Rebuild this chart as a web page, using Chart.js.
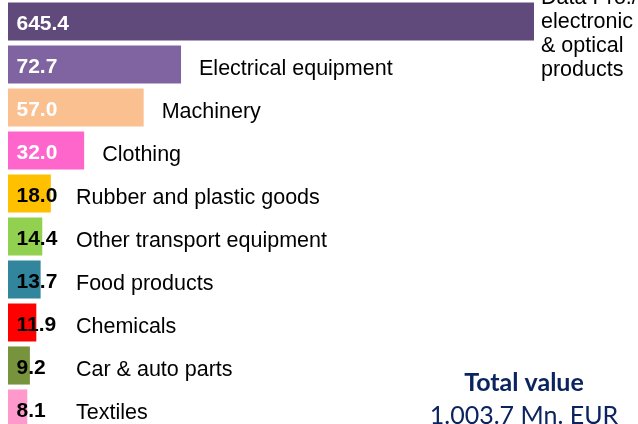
<!DOCTYPE html>
<html>
<head>
<meta charset="utf-8">
<script src="https://cdn.jsdelivr.net/npm/chart.js@4.4.1/dist/chart.umd.min.js"></script>
<style>
  html, body { margin: 0; padding: 0; background: #fff; overflow: hidden; }
  #wrap { position: relative; width: 638px; height: 430px; }
</style>
</head>
<body>
<div id="wrap"><canvas id="chart" width="638" height="430"></canvas></div>
<script>
const categories = [
  ['Data Pro./', 'electronic', '& optical', 'products'],
  'Electrical equipment',
  'Machinery',
  'Clothing',
  'Rubber and plastic goods',
  'Other transport equipment',
  'Food products',
  'Chemicals',
  'Car & auto parts',
  'Textiles',
];
const values = [645.4, 72.7, 57.0, 32.0, 18.0, 14.4, 13.7, 11.9, 9.2, 8.1];
const barColors = [
  '#604A7B', '#8064A2', '#FAC090', '#FF66CC', '#FFC000',
  '#92D050', '#31859C', '#FF0000', '#77933C', '#FF99CC',
];
const totalTitle = 'Total value';
const totalText = '1.003.7 Mn. EUR';

const FONT = '"Liberation Sans", Arial, sans-serif';

// value inside bar, category name right of it, total in the corner
const labelPlugin = {
  id: 'barLabels',
  afterDatasetsDraw(chart) {
    const { ctx, chartArea } = chart;
    const meta = chart.getDatasetMeta(0);
    ctx.save();
    ctx.textAlign = 'left';
    ctx.textBaseline = 'alphabetic';
    meta.data.forEach((bar, i) => {
      const y = bar.y;
      const v = values[i];
      // value
      ctx.font = 'bold 21px ' + FONT;
      ctx.fillStyle = v >= 30 ? '#ffffff' : '#000000';
      ctx.fillText(v.toFixed(1), 16.5, y + 8.5);
      // category
      ctx.font = '21.5px ' + FONT;
      ctx.fillStyle = '#000000';
      const cat = categories[i];
      if (Array.isArray(cat)) {
        const x = Math.min(bar.x, chartArea.right) + 7;
        cat.forEach((line, k) => ctx.fillText(line, x, 4 + k * 24));
      } else {
        const x = Math.max(bar.x + 18, 76);
        ctx.fillText(cat, x, y + 10);
      }
    });
    // total
    ctx.fillStyle = '#0B2460';
    ctx.textAlign = 'center';
    ctx.font = 'bold 25px Lato, "Open Sans", sans-serif';
    ctx.fillText(totalTitle, 524, 391);
    ctx.font = '25px Lato, "Open Sans", sans-serif';
    ctx.fillText(totalText, 524, 424);
    ctx.restore();
  },
};

new Chart(document.getElementById('chart').getContext('2d'), {
  type: 'bar',
  data: {
    labels: categories,
    datasets: [{
      data: values,
      backgroundColor: barColors,
      borderWidth: 0,
      categoryPercentage: 1,
      barPercentage: 0.886,
    }],
  },
  options: {
    indexAxis: 'y',
    responsive: false,
    animation: false,
    layout: { padding: { left: 8, right: 104, top: 0, bottom: 0 } },
    plugins: {
      legend: { display: false },
      tooltip: { enabled: false },
    },
    scales: {
      x: { display: false, min: 0, max: 221 },
      y: { display: false },
    },
  },
  plugins: [labelPlugin],
});
</script>
</body>
</html>
